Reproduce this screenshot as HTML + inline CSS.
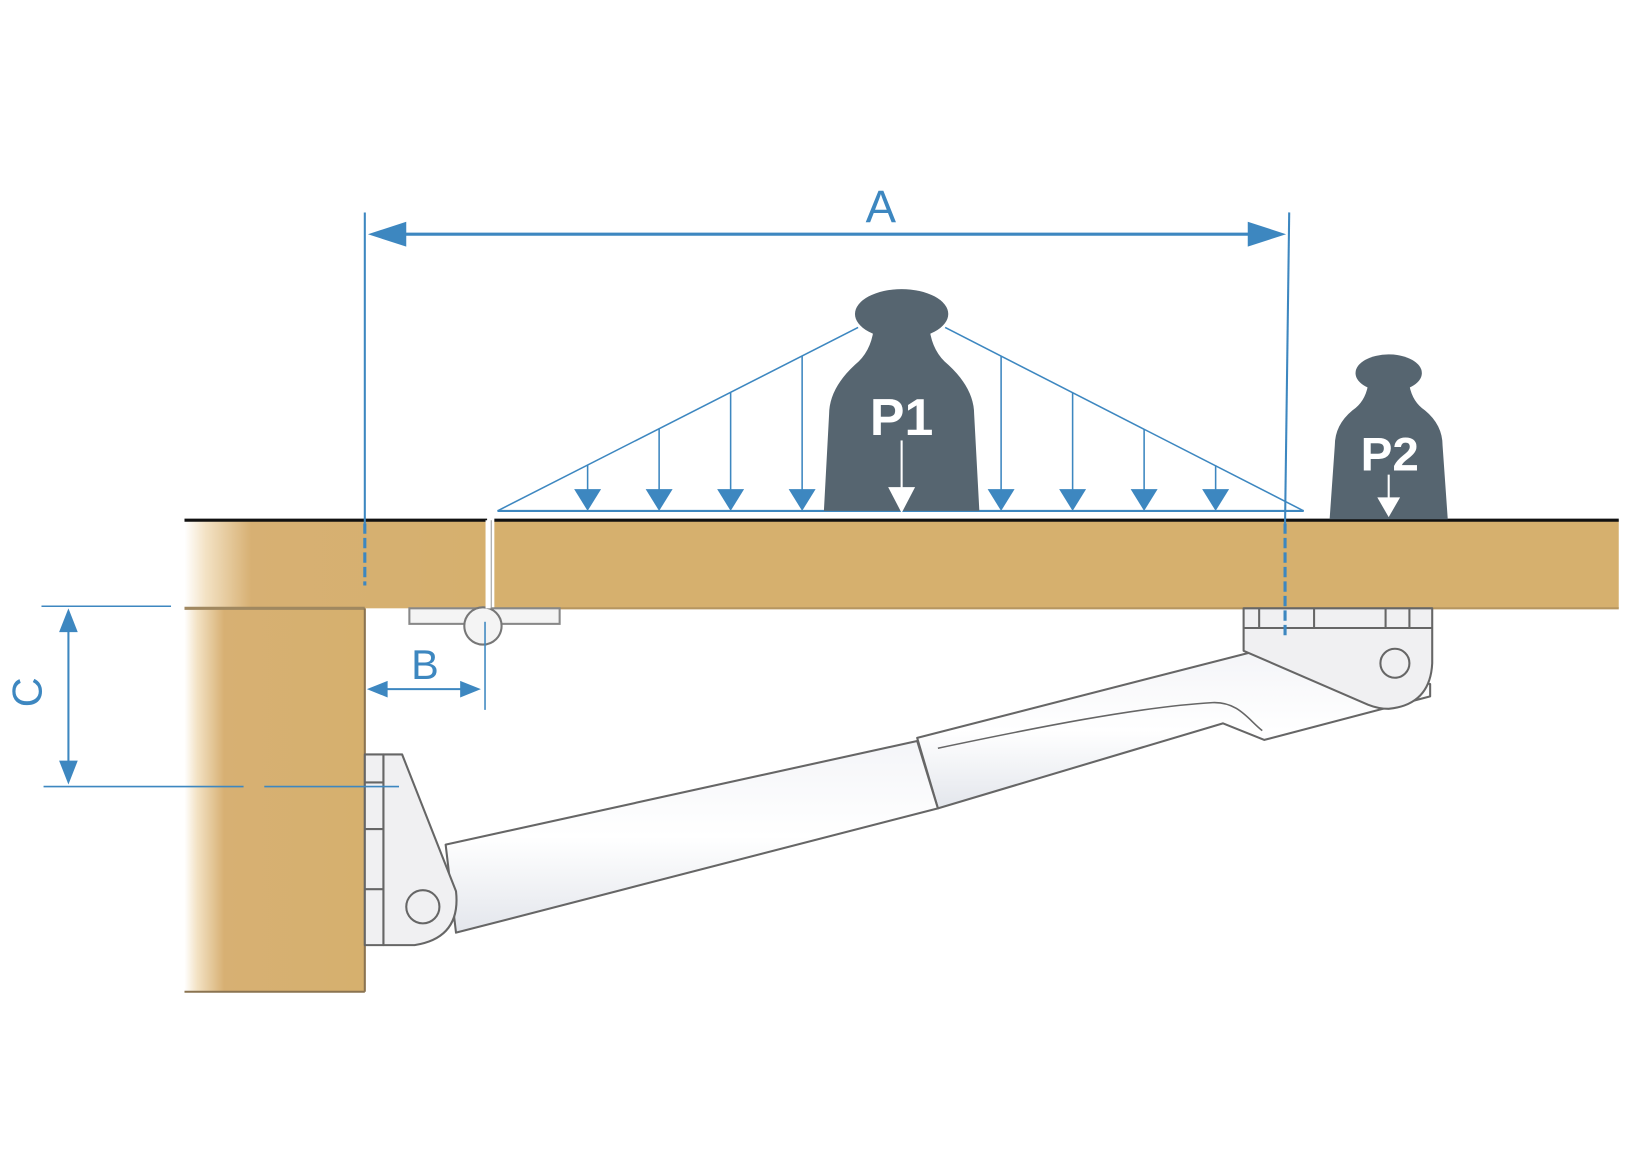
<!DOCTYPE html>
<html><head><meta charset="utf-8"><style>
html,body{margin:0;padding:0;background:#fff;}
svg{display:block;}
</style></head><body>
<svg width="1625" height="1170" viewBox="0 0 1568 1129" xmlns="http://www.w3.org/2000/svg">
<defs>
<linearGradient id="wl" x1="0" x2="1" y1="0" y2="0">
<stop offset="0" stop-color="#fff"/><stop offset="0.07" stop-color="#f3e2c4"/><stop offset="0.22" stop-color="#d7b073"/><stop offset="1" stop-color="#d6b06e"/>
</linearGradient>
<linearGradient id="cyl" x1="0" x2="0" y1="0" y2="1">
<stop offset="0" stop-color="#f4f5f8"/><stop offset="0.5" stop-color="#ffffff"/><stop offset="1" stop-color="#e3e6ec"/>
</linearGradient>
</defs>

<!-- wood -->
<rect x="178" y="502" width="292" height="85" fill="url(#wl)"/>
<rect x="477" y="502" width="1085" height="85" fill="#d6b06e"/>
<rect x="178" y="587" width="174" height="370" fill="url(#wl)"/>
<line x1="178" y1="502" x2="470" y2="502" stroke="#111" stroke-width="3"/>
<line x1="477" y1="502" x2="1562" y2="502" stroke="#111" stroke-width="3"/>
<line x1="178" y1="587" x2="352" y2="587" stroke="#a08860" stroke-width="3"/>
<line x1="352" y1="587" x2="352" y2="957" stroke="#8a7350" stroke-width="2"/>
<line x1="178" y1="957" x2="352" y2="957" stroke="#8a7350" stroke-width="2"/>
<line x1="477" y1="587" x2="1562" y2="587" stroke="#b69660" stroke-width="2"/>

<!-- hinge under gap -->
<rect x="395" y="587" width="145" height="15" fill="#f4f4f4" stroke="#888" stroke-width="2"/>
<circle cx="466" cy="604" r="18" fill="#f4f4f4" stroke="#777" stroke-width="2"/>

<!-- strut -->
<g stroke="#666" stroke-width="2" stroke-linejoin="round">
<path d="M885,712 L1205,630 L1380,660 L1380,672 L1220,714 L1180,698 L905,780 Z" fill="url(#cyl)"/>
<path d="M905,722 C1000,702 1100,682 1170,678 C1195,677 1205,695 1218,705" fill="none" stroke-width="1.5"/>
<polygon points="430,815 885,715 905,780 440,900" fill="url(#cyl)"/>
<path d="M1200,587 L1382,587 L1382,640 Q1380,680 1340,684 Q1330,684 1320,680 L1200,628 Z" fill="#f0f0f2"/>
<line x1="1200" y1="606" x2="1382" y2="606"/>
<line x1="1215" y1="587" x2="1215" y2="606"/><line x1="1268" y1="587" x2="1268" y2="606"/>
<line x1="1337" y1="587" x2="1337" y2="606"/><line x1="1360" y1="587" x2="1360" y2="606"/>
<circle cx="1346" cy="640" r="14" fill="#f0f0f2"/>
<rect x="352" y="728" width="18" height="184" fill="#f0f0f2"/>
<path d="M370,728 L388,728 L440,860 Q445,905 400,912 L370,912 Z" fill="#f0f0f2"/>
<circle cx="408" cy="875" r="16" fill="#f0f0f2"/>
<line x1="352" y1="755" x2="370" y2="755"/><line x1="352" y1="800" x2="370" y2="800"/><line x1="352" y1="858" x2="370" y2="858"/>
</g>

<!-- load triangle -->
<g stroke="#3d87c0" stroke-width="1.5" fill="none">
<polyline points="480,493 828,316"/><polyline points="912,316 1258,493"/>
<line x1="480" y1="493" x2="1258" y2="493" stroke-width="2"/>
<line x1="567" y1="449" x2="567" y2="475"/><line x1="636" y1="414" x2="636" y2="475"/>
<line x1="705" y1="379" x2="705" y2="475"/><line x1="774" y1="344" x2="774" y2="475"/>
<line x1="966" y1="344" x2="966" y2="475"/><line x1="1035" y1="379" x2="1035" y2="475"/>
<line x1="1104" y1="414" x2="1104" y2="475"/><line x1="1173" y1="449" x2="1173" y2="475"/>
</g>
<g fill="#3d87c0">
<polygon points="554,472 580,472 567,493"/><polygon points="623,472 649,472 636,493"/>
<polygon points="692,472 718,472 705,493"/><polygon points="761,472 787,472 774,493"/>
<polygon points="953,472 979,472 966,493"/><polygon points="1022,472 1048,472 1035,493"/>
<polygon points="1091,472 1117,472 1104,493"/><polygon points="1160,472 1186,472 1173,493"/>
</g>

<!-- P1 -->
<g fill="#566570">
<ellipse cx="870" cy="303" rx="45" ry="24"/>
<path d="M843,318 L897,318 Q900,340 915,352 Q940,375 940,400 L945,493 L795,493 L800,400 Q800,375 825,352 Q840,340 843,318 Z"/>
</g>
<text x="870" y="420" font-family="Liberation Sans, sans-serif" font-weight="bold" font-size="50" fill="#fff" text-anchor="middle">P1</text>
<line x1="870" y1="425" x2="870" y2="475" stroke="#fff" stroke-width="2"/>
<polygon points="857,470 883,470 870,495" fill="#fff"/>

<!-- P2 -->
<g fill="#566570">
<ellipse cx="1340" cy="360" rx="32" ry="18"/>
<path d="M1320,372 L1360,372 Q1363,388 1375,396 Q1392,410 1392,430 L1397,501 L1283,501 L1288,430 Q1288,410 1305,396 Q1317,388 1320,372 Z"/>
</g>
<text x="1341" y="454" font-family="Liberation Sans, sans-serif" font-weight="bold" font-size="46" fill="#fff" text-anchor="middle">P2</text>
<line x1="1340" y1="458" x2="1340" y2="485" stroke="#fff" stroke-width="2"/>
<polygon points="1329,480 1351,480 1340,499" fill="#fff"/>

<!-- dimensions -->
<g stroke="#3d87c0" stroke-width="2" fill="none">
<line x1="352" y1="205" x2="352" y2="505"/>
<line x1="352" y1="505" x2="352" y2="565" stroke-dasharray="10,4" stroke-width="3"/>
<line x1="1244" y1="205" x2="1240" y2="505"/>
<line x1="1240" y1="505" x2="1240" y2="615" stroke-dasharray="10,4" stroke-width="3"/>
<line x1="370" y1="226" x2="1226" y2="226" stroke-width="3"/>
<line x1="40" y1="585" x2="165" y2="585" stroke-width="1.5"/>
<line x1="42" y1="759" x2="235" y2="759" stroke-width="1.5"/>
<line x1="255" y1="759" x2="385" y2="759" stroke-width="1.5"/>
<line x1="66" y1="600" x2="66" y2="744"/>
<line x1="366" y1="665" x2="452" y2="665"/>
<line x1="468" y1="600" x2="468" y2="685" stroke-width="1.5"/>
<line x1="471" y1="502" x2="471" y2="587" stroke="#fff" stroke-width="5"/>
</g>
<line x1="474" y1="502" x2="474" y2="587" stroke="#999" stroke-width="1"/>
<g fill="#3d87c0">
<polygon points="355,226 392,214 392,238"/><polygon points="1241,226 1204,214 1204,238"/>
<polygon points="66,587 57,610 75,610"/><polygon points="66,757 57,734 75,734"/>
<polygon points="354,665 374,657 374,673"/><polygon points="464,665 444,657 444,673"/>
</g>
<text x="850" y="214" font-family="Liberation Sans, sans-serif" font-size="44" fill="#3d87c0" text-anchor="middle">A</text>
<text x="410" y="655" font-family="Liberation Sans, sans-serif" font-size="40" fill="#3d87c0" text-anchor="middle">B</text>
<text transform="translate(40,668) rotate(-90)" font-family="Liberation Sans, sans-serif" font-size="40" fill="#3d87c0" text-anchor="middle">C</text>
</svg>
</body></html>
